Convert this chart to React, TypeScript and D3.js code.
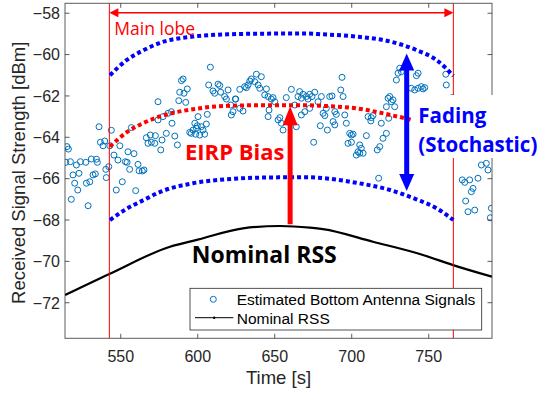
import React from 'react';
import * as d3 from 'd3';

const W = 543;
const H = 397;
const plot = { left: 65, top: 3.3, right: 492, bottom: 338.3 };

const timeTicks = [550, 600, 650, 700, 750];
const rssTicks = [-72, -70, -68, -66, -64, -62, -60, -58];
const timeDomain = [513.8, 791.1];
const rssDomain = [-73.72, -57.52];

// Estimated bottom-antenna signal samples (time [s], RSS [dBm])
const sampleTime = [
  515.1, 516.0, 514.3, 517.3, 521.2, 523.8, 527.3, 530.9, 534.2, 534.8, 535.9, 536.8, 539.6, 538.5,
  543.9, 542.9, 549.4, 545.6, 548.2, 519.0, 522.9, 520.1, 522.1, 517.9, 527.7, 529.9, 532.0, 533.5,
  540.3, 542.2, 540.6, 528.8, 547.1, 551.0, 554.7, 558.6, 556.9, 553.0, 554.1, 555.8, 561.2, 561.9,
  564.0, 565.1, 559.7, 566.6, 569.2, 567.7, 569.9,
  608.2, 589.4, 590.5, 593.2, 588.3, 591.1, 587.7, 592.2, 574.2, 607.1, 613.2, 614.3, 609.9, 611.0,
  614.9, 619.7, 617.5, 618.6, 624.4, 621.4, 582.9, 580.7, 577.5, 574.2, 583.3, 600.2, 606.2, 598.1,
  599.7, 605.6, 594.8, 595.8, 597.0, 599.1, 602.3, 603.4, 604.5, 601.3, 598.7, 572.5, 572.1, 576.8,
  579.6, 585.1, 586.8, 576.0, 621.8, 622.9,
  627.3, 630.5, 631.6, 632.7, 633.8, 634.8, 637.0, 638.1, 641.3, 639.2, 640.3, 644.6, 643.5, 645.7,
  647.8, 648.9, 650.0, 646.3, 645.7, 624.7, 627.3, 629.4, 653.3, 652.2, 654.3, 655.4, 657.5, 660.8,
  665.1, 668.4, 667.3, 670.5, 671.6, 672.7, 674.2, 676.0, 666.2, 663.0, 664.0, 667.3, 669.5, 672.7,
  678.1, 679.6, 675.3,
  693.7, 692.9, 694.4, 680.3, 685.7, 687.2, 683.5, 689.0, 690.0, 695.5, 681.4, 682.5, 684.2, 687.9,
  689.0, 696.5, 698.7, 699.8, 700.9, 697.6, 699.8, 709.5, 705.2, 706.2, 704.1, 703.0, 705.2, 707.4,
  716.6, 718.2, 720.3, 722.5, 710.6, 712.7, 712.4, 713.8, 719.2, 723.6, 724.7, 725.7, 726.8, 727.9,
  722.5, 724.0, 717.5, 731.2, 730.1, 729.0, 732.2,
  743.1, 742.0, 738.7, 740.9, 743.1, 745.2, 746.3, 747.4, 761.1, 761.4, 765.3, 784.2, 787.4, 788.5,
  782.0, 771.8, 773.4, 776.6, 778.8, 777.7, 774.0, 775.5, 779.9, 790.7, 790.0,
];
const sampleRss = [
  -64.45, -64.57, -65.21, -65.18, -65.34, -65.18, -65.21, -65.05, -65.06, -65.21, -63.49, -64.24, -64.18, -64.41,
  -63.66, -64.41, -64.41, -64.86, -65.10, -65.82, -65.74, -66.22, -66.55, -67.0, -66.22, -66.15, -65.82, -65.77,
  -65.55, -65.42, -65.95, -67.31, -66.55, -66.15, -64.7, -64.79, -63.53, -65.18, -65.21, -65.55, -65.31, -65.62,
  -65.63, -65.58, -66.58, -64.02, -63.89, -64.29, -64.24,
  -60.61, -61.26, -61.18, -61.66, -61.82, -61.87, -62.23, -62.31, -62.28, -61.47, -61.43, -61.5, -61.76, -61.87,
  -61.82, -61.71, -62.03, -62.15, -62.15, -62.44, -62.76, -62.84, -63.0, -63.16, -63.32, -63.0, -62.89, -63.32,
  -63.44, -63.36, -63.76, -63.81, -63.65, -63.56, -63.49, -63.65, -63.85, -63.89, -63.85, -63.92, -64.29, -64.13,
  -63.81, -63.94, -64.37, -64.61, -62.92, -62.76,
  -61.68, -61.55, -61.6, -61.47, -61.28, -61.18, -61.31, -60.95, -61.07, -61.47, -61.63, -61.66, -61.95, -62.03,
  -62.15, -62.08, -62.28, -62.68, -63.0, -62.15, -62.6, -62.73, -63.05, -63.16, -63.32, -63.65, -62.08, -61.68,
  -62.03, -61.92, -62.11, -62.03, -62.15, -61.92, -62.03, -61.82, -61.79, -62.44, -63.49, -62.92, -62.76, -62.6,
  -62.28, -63.44, -64.24,
  -61.1, -61.71, -62.03, -62.03, -62.03, -62.0, -62.6, -62.76, -62.89, -62.92, -62.84, -62.95, -63.65, -63.24,
  -63.4, -63.32, -63.81, -63.89, -63.85, -64.29, -64.24, -63.92, -64.37, -64.53, -64.7, -64.86, -64.77, -64.77,
  -64.61, -64.45, -64.05, -63.81, -63.0, -63.05, -63.21, -62.95, -63.32, -62.11, -62.03, -62.28, -62.19, -62.52,
  -62.52, -63.08, -65.98, -60.66, -60.9, -61.23, -60.83,
  -60.9, -61.02, -61.63, -61.71, -61.63, -61.55, -61.66, -61.6, -60.95, -61.47, -62.08, -65.34, -65.26, -65.58,
  -65.98, -66.06, -66.18, -66.06, -66.47, -66.63, -67.08, -67.6, -67.52, -67.43, -67.89,
];

// Nominal received signal strength
const nominalTime = [513.8, 542.6, 582, 600, 629.4, 653.4, 672.9, 681.3, 713.8, 746.3, 765.8, 791.1];
const nominalRss = [-71.63, -70.61, -69.29, -68.95, -68.4, -68.29, -68.37, -68.44, -69.05, -69.69, -70.18, -70.74];

// Main-lobe envelope: EIRP-biased mean and fading bounds
const lobeTime = [543, 554, 565, 576, 597, 619, 641, 671, 681, 703, 725, 742, 755, 766];
const fadingUpper = [-61.0, -60.26, -59.78, -59.42, -59.13, -59.02, -58.99, -58.98, -59.02, -59.13, -59.37, -59.78, -60.26, -61.03];
const eirpMean = [-64.45, -63.75, -63.3, -62.98, -62.64, -62.48, -62.45, -62.45, -62.48, -62.6, -62.92, -63.25, -63.75, -64.5];
const fadingLower = [-68.0, -67.45, -67.03, -66.63, -66.22, -66.03, -65.95, -65.93, -65.97, -66.2, -66.55, -67.0, -67.43, -68.0];

const lobeStart = 542.6;
const lobeEnd = 766;
const lobeArrowLevel = -57.98;
const biasArrow = { time: 660, from: -68.2, to: -62.5 };
const fadingArrow = { time: 735.7, from: -66.6, to: -59.95 };

const BLUE = '#0072BD';
const AXIS = '#262626';
const TICK_FONT = '"Liberation Sans", Arial, sans-serif';
const NOTE_FONT = '"Open Sans", "Noto Sans", sans-serif';

function arrowPath(x: number, y0: number, y1: number, shaft: number, headW: number, headL: number, both: boolean) {
  // vertical arrow from y0 (tail) to y1 (tip), tip above tail
  const s = shaft / 2;
  const h = headW / 2;
  const tip = y1;
  const baseTop = y1 + headL;
  const tail = y0;
  const baseBot = y0 - headL;
  if (!both) {
    return `M${x - s},${tail} L${x - s},${baseTop} L${x - h},${baseTop} L${x},${tip} L${x + h},${baseTop} L${x + s},${baseTop} L${x + s},${tail} Z`;
  }
  return `M${x - s},${baseBot} L${x - s},${baseTop} L${x - h},${baseTop} L${x},${tip} L${x + h},${baseTop} L${x + s},${baseTop} L${x + s},${baseBot} L${x + h},${baseBot} L${x},${tail} L${x - h},${baseBot} Z`;
}

export default function App() {
  const x = d3.scaleLinear().domain(timeDomain).range([plot.left, plot.right]);
  const y = d3.scaleLinear().domain(rssDomain).range([plot.bottom, plot.top]);

  const nominalLine = d3
    .line<number>()
    .x((_, i) => x(nominalTime[i]))
    .y((d) => y(d))
    .curve(d3.curveMonotoneX)(nominalRss) as string;

  const lobeLine = (vals: number[]) =>
    d3
      .line<number>()
      .x((_, i) => x(lobeTime[i]))
      .y((d) => y(d))
      .curve(d3.curveMonotoneX)(vals) as string;

  const fmt = (v: number) => String(v).replace('-', '\u2212');

  const xl = x(lobeStart);
  const xr = x(lobeEnd);
  const ya = y(lobeArrowLevel);

  return (
    <svg
      width={W}
      height={H}
      style={{ position: 'absolute', left: 0, top: 0, background: '#fff' }}
      xmlns="http://www.w3.org/2000/svg"
    >
      <defs>
        <clipPath id="plotClip">
          <rect x={plot.left} y={plot.top} width={plot.right - plot.left} height={plot.bottom - plot.top} />
        </clipPath>
      </defs>
      <rect x={0} y={0} width={W} height={H} fill="#fff" />

      <g clipPath="url(#plotClip)">
        {/* samples */}
        {sampleTime.map((t, i) => (
          <circle key={i} cx={x(t)} cy={y(sampleRss[i])} r={3} fill="none" stroke={BLUE} strokeWidth={1} />
        ))}
        {/* nominal RSS */}
        <path d={nominalLine} fill="none" stroke="#000" strokeWidth={2.2} />
        {/* main lobe borders */}
        <line x1={xl} x2={xl} y1={plot.top} y2={plot.bottom} stroke="#ff0000" strokeWidth={1} />
        <line x1={xr} x2={xr} y1={plot.top} y2={plot.bottom} stroke="#ff0000" strokeWidth={1} />
      </g>

      {/* axes box and ticks */}
      <rect
        x={plot.left}
        y={plot.top}
        width={plot.right - plot.left}
        height={plot.bottom - plot.top}
        fill="none"
        stroke={AXIS}
        strokeOpacity={0.75}
        strokeWidth={1}
      />
      {timeTicks.map((t) => (
        <g key={t}>
          <line x1={x(t)} x2={x(t)} y1={plot.bottom} y2={plot.bottom - 4.5} stroke={AXIS} strokeOpacity={0.75} />
          <line x1={x(t)} x2={x(t)} y1={plot.top} y2={plot.top + 4.5} stroke={AXIS} strokeOpacity={0.75} />
          <text x={x(t)} y={plot.bottom + 23.7} textAnchor="middle" fontFamily={TICK_FONT} fontSize={16} fill={AXIS}>
            {t}
          </text>
        </g>
      ))}
      {rssTicks.map((v) => (
        <g key={v}>
          <line x1={plot.left} x2={plot.left + 4.5} y1={y(v)} y2={y(v)} stroke={AXIS} strokeOpacity={0.75} />
          <line x1={plot.right} x2={plot.right - 4.5} y1={y(v)} y2={y(v)} stroke={AXIS} strokeOpacity={0.75} />
          <text x={plot.left - 5} y={y(v) + 5.8} textAnchor="end" fontFamily={TICK_FONT} fontSize={16} fill={AXIS}>
            {fmt(v)}
          </text>
        </g>
      ))}
      <text x={(plot.left + plot.right) / 2} y={383.5} textAnchor="middle" fontFamily={TICK_FONT} fontSize={18.5} fill={AXIS}>
        Time [s]
      </text>
      <text
        transform={`translate(24.5, ${(plot.top + plot.bottom) / 2 + 2}) rotate(-90)`}
        textAnchor="middle"
        fontFamily={TICK_FONT}
        fontSize={18.5}
        fill={AXIS}
      >
        Received Signal Strength [dBm]
      </text>

      {/* envelope curves */}
      <path d={lobeLine(fadingUpper)} fill="none" stroke="#0000ff" strokeWidth={4} strokeDasharray="4 3" />
      <path d={lobeLine(fadingLower)} fill="none" stroke="#0000ff" strokeWidth={4} strokeDasharray="4 3" />
      <path d={lobeLine(eirpMean)} fill="none" stroke="#ff0000" strokeWidth={4} strokeDasharray="4 3" />

      {/* main lobe span arrow */}
      <line x1={xl + 6} x2={xr - 6} y1={ya} y2={ya} stroke="#ff0000" strokeWidth={1.5} />
      <path d={`M${xl},${ya} L${xl + 9},${ya - 4.5} L${xl + 9},${ya + 4.5} Z`} fill="#ff0000" />
      <path d={`M${xr},${ya} L${xr - 9},${ya - 4.5} L${xr - 9},${ya + 4.5} Z`} fill="#ff0000" />
      <text x={xl + 5} y={35} fontFamily={NOTE_FONT} fontSize={17.5} fill="#ff0000">
        Main lobe
      </text>

      {/* EIRP bias arrow */}
      <path d={arrowPath(x(biasArrow.time), y(biasArrow.from), y(biasArrow.to), 5, 15, 19, false)} fill="#ff0000" />
      <text x={185} y={160} fontFamily={NOTE_FONT} fontWeight={700} fontSize={22} fill="#ff0000">
        EIRP Bias
      </text>

      {/* fading arrow */}
      <path d={arrowPath(x(fadingArrow.time), y(fadingArrow.from), y(fadingArrow.to), 5, 15, 17, true)} fill="#0000ff" />
      <rect x={412} y={95} width={131} height={63} fill="#fff" />
      <text fontFamily={NOTE_FONT} fontWeight={700} fontSize={20.5} fill="#0000ff">
        <tspan x={418.3} y={123.3}>Fading</tspan>
        <tspan x={418.3} y={152}>(Stochastic)</tspan>
      </text>

      <text x={191.7} y={263.3} fontFamily={NOTE_FONT} fontWeight={700} fontSize={23} fill="#000">
        Nominal RSS
      </text>

      {/* legend */}
      <rect x={190} y={288.3} width={291.7} height={41.7} fill="#fff" stroke={AXIS} strokeWidth={0.8} />
      <circle cx={213.3} cy={299.3} r={3} fill="none" stroke={BLUE} strokeWidth={1} />
      <text x={236.7} y={305} fontFamily={TICK_FONT} fontSize={15.5} fill="#000">
        Estimated Bottom Antenna Signals
      </text>
      <line x1={195} x2={233.3} y1={317.7} y2={317.7} stroke="#000" strokeWidth={1} />
      <circle cx={214.2} cy={317.7} r={1.2} fill="#000" />
      <text x={236.7} y={323.5} fontFamily={TICK_FONT} fontSize={15.5} fill="#000">
        Nominal RSS
      </text>
    </svg>
  );
}
